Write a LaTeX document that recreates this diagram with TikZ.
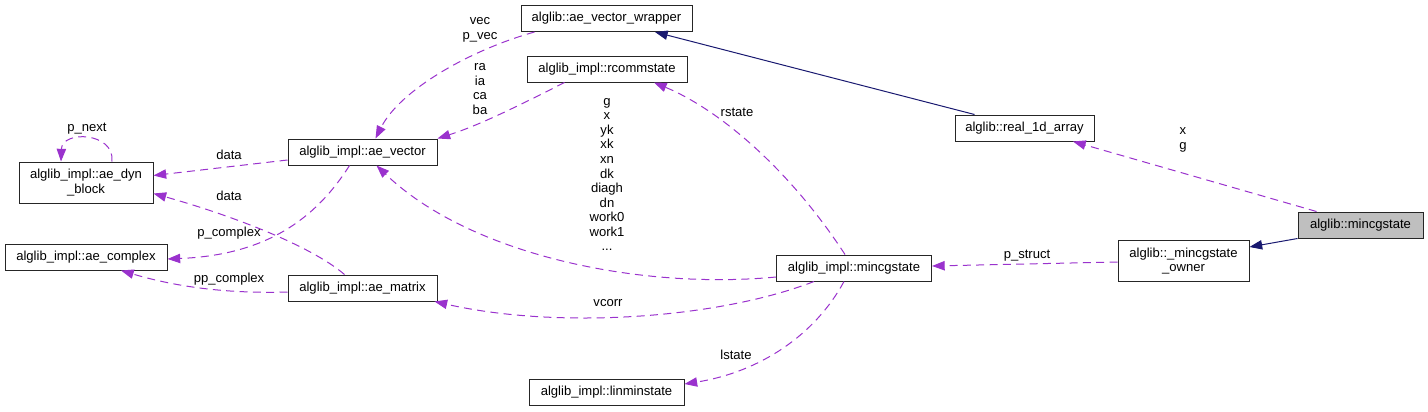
\documentclass[tikz,border=0pt]{standalone}
\usepackage{fontspec}
\setmainfont{Liberation Sans}
\usetikzlibrary{arrows.meta,calc}
\definecolor{dep}{HTML}{9A32CD}
\definecolor{inhc}{HTML}{191970}
\definecolor{hl}{HTML}{BFBFBF}
\begin{document}
\begin{tikzpicture}[x=0.75pt,y=-0.75pt,
  box/.style={draw=black!85, line width=0.75pt, fill=white, inner sep=0pt, minimum height=19.5pt,
    font=\fontsize{9.8}{11}\selectfont, align=center},
  tall/.style={minimum height=30.75pt},
  wd/.style={minimum width=#1*0.75pt},
  lab/.style={inner sep=0pt, font=\fontsize{9.8}{10.9}\selectfont, align=center},
  depe/.style={draw=dep, line width=0.75pt, dash pattern=on 6pt off 4pt,
    -{Triangle[length=9.5pt,width=7pt,fill=dep]}},
  inhe/.style={draw=inhc, line width=0.75pt,
    -{Triangle[length=9.5pt,width=7pt,fill=inhc]}}]
\useasboundingbox (0,0) rectangle (1428,411);

% nodes
\node[box,wd=171] (wrapper) at (606.5,18.5) {alglib::ae\_vector\_wrapper};
\node[box,wd=160] (rcomm) at (607,69) {alglib\_impl::rcommstate};
\node[box,wd=139] (real) at (1024.5,128) {alglib::real\_1d\_array};
\node[box,wd=125,fill=hl] (mincg) at (1360.5,225) {alglib::mincgstate};
\node[box,wd=131,tall] (owner) at (1183.5,261) {alglib::\_mincgstate\\\_owner};
\node[box,wd=155] (impl) at (854,268) {alglib\_impl::mincgstate};
\node[box,wd=149] (vec) at (362.5,152) {alglib\_impl::ae\_vector};
\node[box,wd=134,tall] (dyn) at (86,182.5) {alglib\_impl::ae\_dyn\\\_block};
\node[box,wd=162] (cplx) at (86,257) {alglib\_impl::ae\_complex};
\node[box,wd=149] (mat) at (362.5,288) {alglib\_impl::ae\_matrix};
\node[box,wd=155] (lin) at (606.5,392) {alglib\_impl::linminstate};

% inheritance
\draw[inhe] ($(real.north west)+(20,0)$) -- ($(wrapper.south)+(48.5,0)$);
\draw[inhe] (mincg.south west) -- ($(owner.east)+(0,-14)$);

% usage
\draw[depe] ($(mincg.north west)+(19,0)$) -- ($(real.south)+(48.5,0)$);
\draw[depe] ($(owner.west)+(0,1)$) -- ($(impl.east)+(0,-2)$);
\draw[depe] ($(impl.north)+(-9,0)$) .. controls (790,170) and (720,110) .. ($(rcomm.south)+(47,0)$);
\draw[depe] ($(impl.west)+(0,9)$) .. controls (640,290) and (470,255) .. ($(vec.south)+(14,0)$);
\draw[depe] ($(impl.south)+(-40,0)$) .. controls (720,318) and (560,330) .. ($(mat.south east)+(-3,0)$);
\draw[depe] ($(impl.south)+(-10,0)$) .. controls (815,335) and (760,372) .. ($(lin.east)+(0,-8)$);
\draw[depe] ($(wrapper.south west)+(14,0)$) .. controls (470,50) and (400,90) .. ($(vec.north)+(13,0)$);
\draw[depe] ($(rcomm.south west)+(38,0)$) .. controls (520,105) and (480,125) .. (vec.north east);
\draw[depe] ($(vec.west)+(0,8)$) -- ($(dyn.east)+(0,-7)$);
\draw[depe] ($(mat.north west)+(57,0)$) .. controls (310,245) and (230,215) .. ($(dyn.east)+(0,11)$);
\draw[depe] ($(vec.south west)+(62,0)$) .. controls (315,220) and (265,255) .. ($(cplx.east)+(0,2)$);
\draw[depe] ($(mat.west)+(0,4)$) .. controls (220,294) and (170,285) .. ($(cplx.south)+(35,0)$);
\draw[depe] ($(dyn.north)+(26,0)$) .. controls (115,132) and (62,130) .. ($(dyn.north)+(-25,0)$);

% labels
\node[lab] (lvec) at (480,30) {vec\\p\_vec};
\node[lab] (lra) at (480,89) {ra\\ia\\ca\\ba};
\node[lab] (lg) at (607,174.5) {g\\x\\yk\\xk\\xn\\dk\\diagh\\dn\\work0\\work1\\...};
\node[lab] (lrs) at (737,112) {rstate};
\node[lab] (lps) at (1027,256) {p\_struct};
\node[lab] (lxg) at (1183,140) {x\\g};
\node[lab] (lvc) at (608,303) {vcorr};
\node[lab] (lls) at (736,355) {lstate};
\node[lab] (ld1) at (229,155) {data};
\node[lab] (ld2) at (229,196) {data};
\node[lab] (lpc) at (229,233) {p\_complex};
\node[lab] (lppc) at (229,279) {pp\_complex};
\node[lab] (lpn) at (87,129) {p\_next};
\end{tikzpicture}
\end{document}
